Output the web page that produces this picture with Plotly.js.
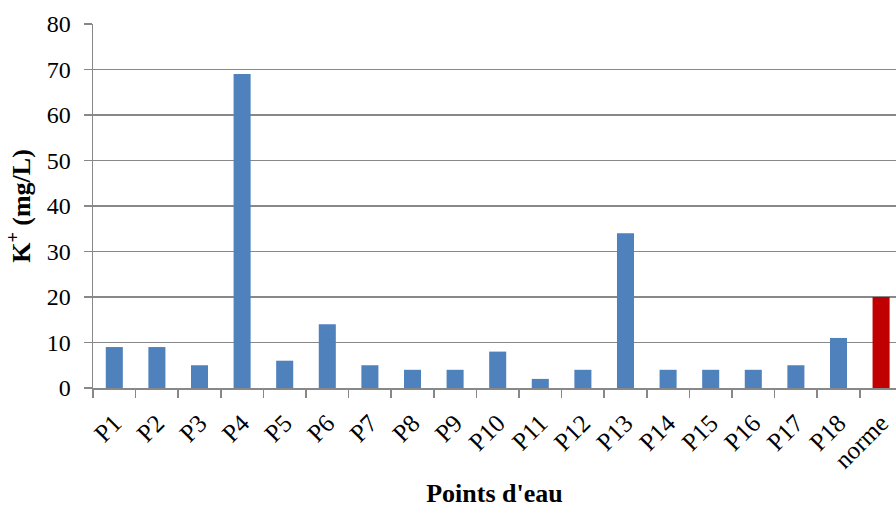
<!DOCTYPE html>
<html><head><meta charset="utf-8">
<script src="https://cdn.plot.ly/plotly-3.0.1.min.js"></script>
<style>html,body{margin:0;padding:0;background:#fff}</style>
</head><body>
<div id="chart" style="width:896px;height:508px"></div>
<script>
const categories = ['P1','P2','P3','P4','P5','P6','P7','P8','P9','P10','P11','P12','P13','P14','P15','P16','P17','P18','norme'];
const values = [9, 9, 5, 69, 6, 14, 5, 4, 4, 8, 2, 4, 34, 4, 4, 4, 5, 11, 20];
const yTicks = [0,10,20,30,40,50,60,70,80];

const colors = categories.map(c => c === 'norme' ? '#C00000' : '#4F81BD');
const font = 'Liberation Serif, Times New Roman, serif';

Plotly.newPlot('chart', [{
  type: 'bar', x: categories, y: values,
  marker: {color: colors},
  width: 0.4, hoverinfo: 'x+y'
}], {
  width: 896, height: 508,
  margin: {l: 93, r: 0, t: 24, b: 120},
  paper_bgcolor: '#fff', plot_bgcolor: '#fff',
  showlegend: false,
  font: {family: font, color: '#000', size: 22},
  xaxis: {
    type: 'category', range: [-0.5, 18.35],
    tickangle: -45, tickfont: {size: 25, family: font}, ticklabelstandoff: 9,
    ticks: 'outside', tickson: 'boundaries', ticklen: 8, tickcolor: '#888', tickwidth: 1.5,
    showline: true, linecolor: '#888', linewidth: 1.5,
    showgrid: false, zeroline: false,
    title: {text: "<b>Points d'eau</b>", font: {size: 26, family: font}, standoff: 14}
  },
  yaxis: {
    range: [0, 80], tickvals: yTicks, ticktext: yTicks.map(String),
    tickfont: {size: 24, family: font}, ticklabelstandoff: 8,
    ticks: 'outside', ticklen: 8, tickcolor: '#888', tickwidth: 1.5,
    showline: true, linecolor: '#888', linewidth: 1.5,
    showgrid: true, gridcolor: '#888', gridwidth: 1.5, zeroline: false,
    title: {text: '<b>K<sup>+</sup> (mg/L)</b>', font: {size: 26, family: font}, standoff: 8}
  }
}, {staticPlot: true});
</script>
</body></html>
